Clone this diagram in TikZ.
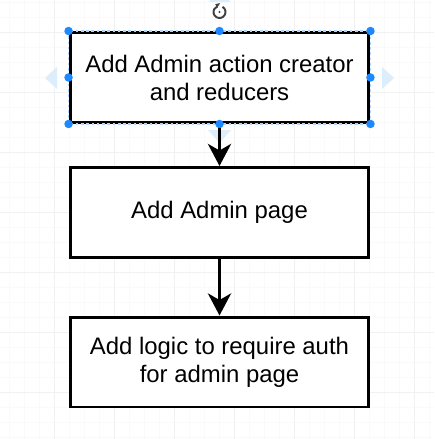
\documentclass[tikz,border=0pt]{standalone}
\usepackage{fontspec}
\setmainfont{Liberation Sans}
\usetikzlibrary{arrows.meta}

\definecolor{handle}{HTML}{1E88FF}
\definecolor{hint}{HTML}{DCEEFC}
\definecolor{minorgrid}{HTML}{FAFAFA}
\definecolor{majorgrid}{HTML}{F1F1F1}

\tikzset{
  stepbox/.style={draw, line width=1.7pt, fill=white, minimum width=5.98cm, minimum height=1.8cm,
    align=center, font=\fontsize{13.6}{15.9}\selectfont},
  flow/.style={line width=2.1pt, -{Stealth[length=0.44cm, width=0.46cm, inset=0.13cm]}},
}

\begin{document}
\begin{tikzpicture}[x=0.02cm, y=-0.02cm]
  \useasboundingbox[fill=white] (0,0) rectangle (434,439);
  % grid
  \foreach \gx in {9,24,...,434} \draw[minorgrid, line width=0.3pt] (\gx,0) -- (\gx,439);
  \foreach \gy in {2,17,...,439} \draw[minorgrid, line width=0.3pt] (0,\gy) -- (434,\gy);
  \foreach \gx in {54,114,...,434} \draw[majorgrid, line width=0.3pt] (\gx,0) -- (\gx,439);
  \foreach \gy in {32,92,...,439} \draw[majorgrid, line width=0.3pt] (0,\gy) -- (434,\gy);

  % hints round the selected box
  \fill[hint] (45,78) -- (57,67) -- (57,89) -- cycle;
  \fill[hint] (394,78) -- (382,67) -- (382,89) -- cycle;
  \fill[hint] (219.5,-9) -- (208.5,2) -- (230.5,2) -- cycle;
  \fill[hint] (219.5,143) -- (208,130) -- (231,130) -- cycle;

  \node[stepbox] (reducers) at (219.5,77.5) {Add Admin action creator\\and reducers};
  \node[stepbox] (page) at (219.5,212.5) {Add Admin page};
  \node[stepbox] (auth) at (219.5,362) {Add logic to require auth\\for admin page};

  \draw[flow] (reducers) -- (page);
  \draw[flow] (page) -- (auth);

  % selection
  \draw[handle!35!white, line width=0.7pt, dash pattern=on 1.5pt off 1.5pt]
    (reducers.north west) rectangle (reducers.south east);
  \foreach \a in {north west,north,north east,east,south east,south,south west,west}
    \fill[handle] (reducers.\a) circle (0.085cm);

  % rotate icon
  \begin{scope}[shift={(219.5,12)}, x=1cm, y=1cm]
    \draw[black!75, line width=1.1pt] (60:0.12) arc[start angle=60, end angle=-250, radius=0.12];
    \fill[black!75] (-250:0.12) ++(-0.045,0.045) -- ++(0.1,0.02) -- ++(-0.06,-0.09) -- cycle;
    \fill[black!75] (0,0) circle (0.022);
  \end{scope}
\end{tikzpicture}
\end{document}
